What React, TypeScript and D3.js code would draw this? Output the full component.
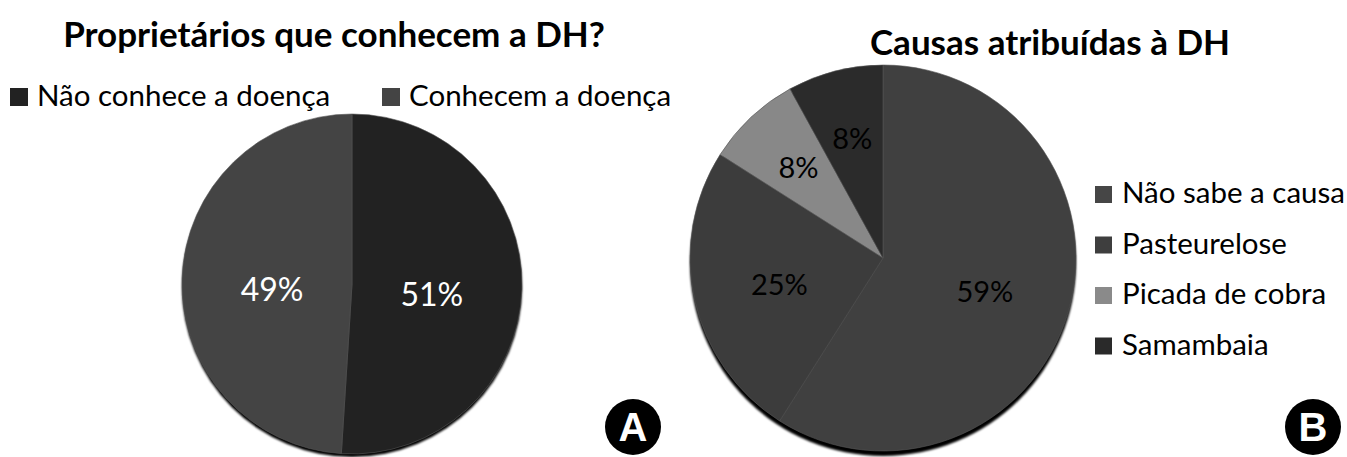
import React from "react";
import * as d3 from "d3";

const titleA = "Proprietários que conhecem a DH?";
const categoriesA = ["Não conhece a doença", "Conhecem a doença"];
const valuesA = [51, 49];
const colorsA = ["#222222", "#444444"];

const titleB = "Causas atribuídas à DH";
const categoriesB = ["Não sabe a causa", "Pasteurelose", "Picada de cobra", "Samambaia"];
const valuesB = [59, 25, 8, 8];
const colorsB = ["#404040", "#3c3c3c", "#888888", "#2b2b2b"];
const legendColorsB = ["#464646", "#3e3e3e", "#8a8a8a", "#2a2a2a"];

const FONT = "Lato, 'Open Sans', sans-serif";

function Pie({ cx, cy, r, values, colors, labelColor, fontSize, labelRadius, labelDy, shadow }: any) {
  const pie = d3.pie<number>().sort(null).value((d) => d);
  const arcs = pie(values);
  const arc = d3.arc<any>().innerRadius(0).outerRadius(r);
  return (
    <g transform={`translate(${cx},${cy})`}>
      <ellipse cx={0} cy={shadow} rx={r} ry={r} fill="#000" filter="url(#blur)" />
      {arcs.map((a, i) => (
        <path key={i} d={arc(a) as string} fill={colors[i]} stroke="#555" strokeWidth={0.6} />
      ))}
      {arcs.map((a, i) => {
        const lr = r * labelRadius(a.data);
        const c = d3.arc<any>().innerRadius(lr).outerRadius(lr).centroid(a);
        return (
          <text key={"l" + i} x={c[0]} y={c[1] + labelDy(a.data)} dy="0.35em" textAnchor="middle"
            fill={labelColor} fontFamily={FONT} fontSize={fontSize}>
            {`${a.data}%`}
          </text>
        );
      })}
    </g>
  );
}

export default function App() {
  return (
    <svg width={1347} height={457} style={{ position: "absolute", left: 0, top: 0, background: "#fff" }}>
      <defs>
        <filter id="blur" x="-10%" y="-10%" width="120%" height="120%">
          <feGaussianBlur stdDeviation="1" />
        </filter>
      </defs>
      <rect width={1347} height={457} fill="#fff" />
      {/* Chart A */}
      <text x={334} y={47} textAnchor="middle" fontFamily={FONT} fontWeight="bold" fontSize={35} fill="#000">
        {titleA}
      </text>
      {categoriesA.map((c, i) => {
        const x0 = [10, 382][i];
        return (
          <g key={c}>
            <rect x={x0} y={88} width={18} height={18} fill={colorsA[i]} />
            <text x={x0 + 27} y={106} fontFamily={FONT} fontSize={29.5} fill="#000">{c}</text>
          </g>
        );
      })}
      <Pie cx={352} cy={284} r={170} values={valuesA} colors={colorsA} labelColor="#fff" fontSize={32}
        labelRadius={() => 0.47} labelDy={() => 8} shadow={3} />
      <circle cx={633} cy={427} r={28} fill="#000" />
      <text x={633} y={427} dy="0.36em" textAnchor="middle" fontFamily="'Liberation Sans', Arial, sans-serif"
        fontWeight="bold" fontSize={40} fill="#fff">A</text>

      {/* Chart B */}
      <text x={1050} y={55} textAnchor="middle" fontFamily={FONT} fontWeight="bold" fontSize={35} fill="#000">
        {titleB}
      </text>
      <Pie cx={883} cy={258} r={193} values={valuesB} colors={colorsB} labelColor="#000" fontSize={29}
        labelRadius={(v: number) => (v < 10 ? 0.64 : 0.55)} labelDy={(v: number) => (v < 10 ? 0 : 4)} shadow={5} />
      {categoriesB.map((c, i) => {
        const y = 203 + i * 50.5;
        return (
          <g key={c}>
            <rect x={1095} y={y - 17} width={17} height={17} fill={legendColorsB[i]} />
            <text x={1122} y={y} fontFamily={FONT} fontSize={29.5} fill="#000">{c}</text>
          </g>
        );
      })}
      <circle cx={1313} cy={427} r={28} fill="#000" />
      <text x={1313} y={427} dy="0.36em" textAnchor="middle" fontFamily="'Liberation Sans', Arial, sans-serif"
        fontWeight="bold" fontSize={40} fill="#fff">B</text>
    </svg>
  );
}
